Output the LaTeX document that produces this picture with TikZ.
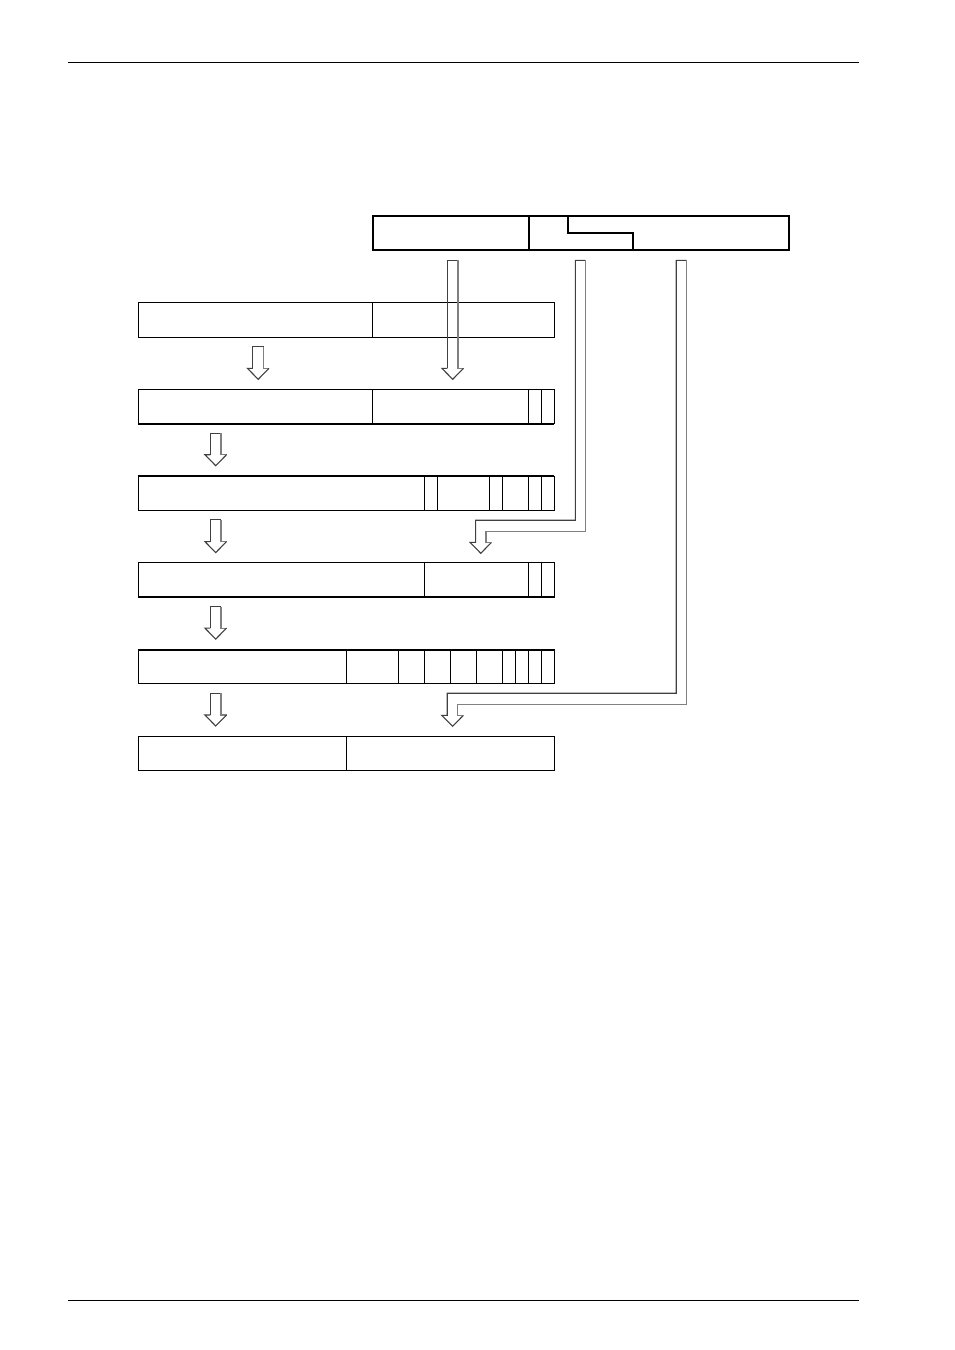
\documentclass[tikz,border=0pt]{standalone}
\usepackage{tikz}

\newcommand{\blkarrow}[3]{%
  \draw[arrowdark] (#1-5.3,#3-11) -- (#1-5.3,#2) -- (#1+5.3,#2);
  \draw[arrowlight] (#1+5.3,#2) -- (#1+5.3,#3-11) -- (#1+10.8,#3-11);
  \draw[arrowdark] (#1+10.8,#3-11) -- (#1,#3) -- (#1-10.8,#3-11) -- (#1-5.3,#3-11);
}

\begin{document}
\begin{tikzpicture}[x=1pt,y=-1pt]

\tikzstyle{reg} = [rectangle, minimum width=416pt, minimum height=34.3pt, inner sep=0pt, outer sep=0pt, draw=black, line width=1.1pt]
\tikzstyle{field} = [draw=black, line width=1.1pt]
\tikzstyle{heavy} = [draw=black, line width=2pt]
\tikzstyle{arrowdark} = [draw=black!75, line width=1.1pt, line join=miter]
\tikzstyle{arrowlight} = [draw=black!50, line width=1.1pt, line join=miter]

\useasboundingbox (0,0) rectangle (954,1350);

\draw[line width=1.4pt] (68,62.3) -- (858.7,62.3);
\draw[line width=1.4pt] (68,1300.3) -- (858.7,1300.3);

\node[reg, line width=1.8pt] (src) at (581,232.9) {};
\draw[field, line width=1.8pt] ([xshift=156pt]src.north west) -- ([xshift=156pt]src.south west);
\draw[field, line width=1.8pt] ([xshift=195pt]src.north west) |- ([xshift=260pt]src.west) -- ([xshift=260pt]src.south west);

\node[reg] (r1) at (346.3,319.9) {};
\node[reg] (r2) at (346.3,406.6) {};
\node[reg] (r3) at (346.3,493.3) {};
\node[reg] (r4) at (346.3,580.0) {};
\node[reg] (r5) at (346.3,666.7) {};
\node[reg] (r6) at (346.3,753.4) {};

\foreach \b in {18}
  \draw[field] ([xshift=\b*13pt]r1.north west) -- ([xshift=\b*13pt]r1.south west);
\foreach \b in {18,30,31}
  \draw[field] ([xshift=\b*13pt]r2.north west) -- ([xshift=\b*13pt]r2.south west);
\foreach \b in {22,23,27,28,30,31}
  \draw[field] ([xshift=\b*13pt]r3.north west) -- ([xshift=\b*13pt]r3.south west);
\foreach \b in {22,30,31}
  \draw[field] ([xshift=\b*13pt]r4.north west) -- ([xshift=\b*13pt]r4.south west);
\foreach \b in {16,20,22,24,26,28,29,30,31}
  \draw[field] ([xshift=\b*13pt]r5.north west) -- ([xshift=\b*13pt]r5.south west);
\foreach \b in {16}
  \draw[field] ([xshift=\b*13pt]r6.north west) -- ([xshift=\b*13pt]r6.south west);

\draw[heavy] (r2.south west) -- (r2.south east);
\draw[heavy] (r3.north west) -- (r3.north east);
\draw[heavy] (r4.south west) -- (r4.south east);
\draw[heavy] (r5.north west) -- (r5.north east);

\blkarrow{452.7}{260.3}{379.3}
\blkarrow{258.2}{346.7}{379.3}
\blkarrow{215.7}{433.3}{465.7}
\blkarrow{215.7}{519.9}{552.6}
\blkarrow{215.7}{606.7}{639.1}
\blkarrow{215.7}{693.2}{726.0}

\draw[arrowdark] (491.5,542.3) -- (480.8,553.3) -- (470,542.3) -- (475.6,542.3) -- (475.6,520.2) -- (575.4,520.2) -- (575.4,260.3) -- (585.4,260.3);
\draw[arrowlight] (585.4,260.3) -- (585.4,531.6) -- (486,531.6) -- (486,542.3) -- (491.5,542.3);

\draw[arrowdark] (463.4,715.3) -- (452.6,726.3) -- (441.6,715.3) -- (447.2,715.3) -- (447.2,693.2) -- (676.2,693.2) -- (676.2,260.3) -- (686.9,260.3);
\draw[arrowlight] (686.9,260.3) -- (686.9,704.3) -- (457.9,704.3) -- (457.9,715.3) -- (463.4,715.3);

\end{tikzpicture}
\end{document}
